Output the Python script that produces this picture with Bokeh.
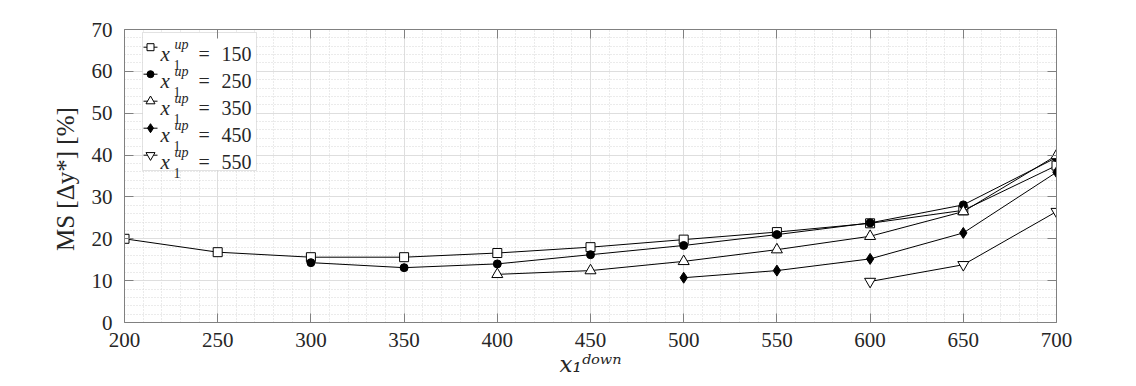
from bokeh.plotting import figure
from bokeh.models import (Range1d, FixedTicker, LinearAxis, Label, BoxAnnotation,
                          CustomJSTickFormatter, ColumnDataSource)
from bokeh.embed import file_html
from bokeh.resources import INLINE

# ---------------- data ----------------
x_down = [200, 250, 300, 350, 400, 450, 500, 550, 600, 650, 700]
x_up = [150, 250, 350, 450, 550]
ms_150 = [20.0, 16.8, 15.6, 15.6, 16.6, 18.0, 19.8, 21.6, 23.7, 26.8, 37.5]
ms_250 = [14.3, 13.1, 14.0, 16.2, 18.4, 21.0, 23.8, 28.1, 39.4]
ms_350 = [11.5, 12.4, 14.6, 17.4, 20.6, 26.5, 39.9]
ms_450 = [10.7, 12.4, 15.2, 21.4, 35.9]
ms_550 = [9.8, 13.8, 26.5]
x_ticks = [200, 250, 300, 350, 400, 450, 500, 550, 600, 650, 700]
y_ticks = [0, 10, 20, 30, 40, 50, 60, 70]
series = [ms_150, ms_250, ms_350, ms_450, ms_550]
x_label = "x\u2081\u1d48\u1d52\u02b7\u207f"
y_label = "MS [\u0394y*]  [%]"

# ---------------- styles ----------------
markers = ["square", "circle", "triangle", "diamond", "inverted_triangle"]
fills = ["white", "black", "white", "black", "white"]
msizes = [9, 8, 11, 11, 11]
lsizes = [7, 7, 9, 9, 9]
AX = "#808080"
TXT = "#262626"
FONT = "Liberation Serif"

W, H = 1120, 386
ML, MR, MT, MB = 124, 64, 29, 64
FW, FH = W - ML - MR, H - MT - MB
X0, X1, Y0, Y1 = 200, 700, 0, 70
sx = (X1 - X0) / FW
sy = (Y1 - Y0) / FH

p = figure(width=W, height=H, x_range=Range1d(X0, X1), y_range=Range1d(Y0, Y1),
           output_backend="svg", toolbar_location=None,
           min_border_left=ML, min_border_right=MR, min_border_top=MT, min_border_bottom=MB)
p.outline_line_color = None
p.background_fill_color = "white"
p.border_fill_color = "white"

xt = FixedTicker(ticks=x_ticks, minor_ticks=list(range(200, 701, 10)))
yt = FixedTicker(ticks=y_ticks, minor_ticks=list(range(0, 71, 2)))
bottom = p.below[0]
left = p.left[0]
bottom.ticker = xt
left.ticker = yt

above = LinearAxis(ticker=xt)
right = LinearAxis(ticker=yt)
p.add_layout(above, "above")
p.add_layout(right, "right")

for ax in [bottom, left, above, right]:
    ax.axis_line_color = AX
    ax.axis_line_width = 1
    ax.major_tick_line_color = AX
    ax.major_tick_in = 9
    ax.major_tick_out = 0
    ax.minor_tick_line_color = None
    ax.major_label_text_font = FONT
    ax.major_label_text_font_size = "21px"
    ax.major_label_text_color = TXT
    ax.major_label_standoff = 8

for ax in [above, right]:
    ax.formatter = CustomJSTickFormatter(code="return ''")
    ax.major_label_text_font_size = "0px"
    ax.major_label_standoff = 0

bottom.major_label_standoff = 6
bottom.axis_label = x_label
bottom.axis_label_text_font = "DejaVu Serif"
bottom.axis_label_text_font_style = "italic"
bottom.axis_label_text_font_size = "23px"
bottom.axis_label_text_color = TXT
bottom.axis_label_standoff = 1

left.axis_label = y_label
left.axis_label_text_font = FONT
left.axis_label_text_font_style = "normal"
left.axis_label_text_font_size = "25px"
left.axis_label_text_color = TXT
left.axis_label_standoff = 10

for g in [p.xgrid[0], p.ygrid[0]]:
    g.grid_line_color = "#dedede"
    g.grid_line_width = 1
    g.minor_grid_line_color = "#d6d6d6"
    g.minor_grid_line_dash = "1 2"
    g.minor_grid_line_width = 1

# ---------------- data series ----------------
for k, ys in enumerate(series):
    xs = x_down[2 * k: 2 * k + len(ys)]
    src = ColumnDataSource(dict(x=xs, y=ys))
    p.line("x", "y", source=src, line_color="black", line_width=1)
    p.scatter("x", "y", source=src, marker=markers[k], size=msizes[k],
              fill_color=fills[k], line_color="black", line_width=1)

# ---------------- legend (manual, inside the frame) ----------------
box = BoxAnnotation(left=X0 + 18 * sx, right=X0 + 132 * sx,
                    top=Y1 - 3 * sy, bottom=Y1 - 141 * sy,
                    fill_color="white", fill_alpha=1.0,
                    line_color="#a0a0a0", line_width=1, level="underlay")
p.add_layout(box)


def lab(text, x, y, dx, dy, size, style="normal", font=FONT):
    p.add_layout(Label(x=x, y=y, x_offset=dx, y_offset=dy, text=text,
                       text_font=font, text_font_size=f"{size}px",
                       text_font_style=style, text_baseline="alphabetic",
                       text_align="left", text_color=TXT))


for i, u in enumerate(x_up):
    my = Y1 - (17.7 + 27 * i) * sy
    p.line([X0 + 19 * sx, X0 + 33 * sx], [my, my], line_color="black", line_width=1)
    p.scatter([X0 + 26 * sx], [my], marker=markers[i], size=lsizes[i],
              fill_color=fills[i], line_color="black", line_width=1)
    base = -(24.5 + 27 * i)
    lab("x", X0, Y1, 36, base, 21, "italic")
    lab("1", X0, Y1, 49, base - 11, 14)
    lab("up", X0, Y1, 50, base + 10, 14, "italic")
    lab("=", X0, Y1, 74, base, 20)
    lab(str(u), X0, Y1, 97, base, 20)

open("out.html", "w").write(file_html(p, INLINE))
